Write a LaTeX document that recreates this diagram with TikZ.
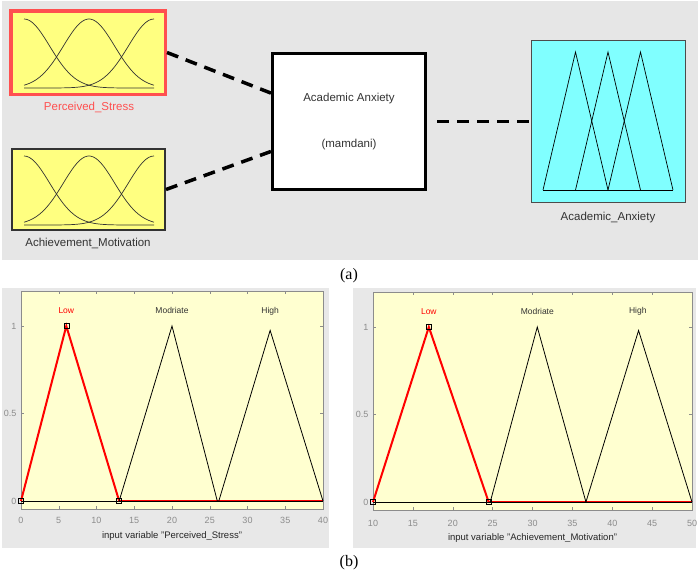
\documentclass[tikz,border=0pt]{standalone}
\usepackage{fontspec}
\setmainfont{Liberation Sans}
\newfontfamily\capfont{Liberation Serif}
\usetikzlibrary{calc, positioning}

\definecolor{panelgray}{RGB}{230,230,230}
\definecolor{framegray}{RGB}{232,232,232}
\definecolor{iconyellow}{RGB}{255,255,128}
\definecolor{iconcyan}{RGB}{128,255,255}
\definecolor{stressred}{RGB}{255,80,80}
\definecolor{axisyellow}{RGB}{255,255,208}
\definecolor{tickgray}{RGB}{140,140,140}

\begin{document}
\begin{tikzpicture}[x=1pt, y=-1pt,
    icon/.style={draw, rectangle, inner sep=0pt},
    link/.style={line width=3.5pt, dash pattern=on 12pt off 8pt},
    toplabel/.style={font=\fontsize{11.5}{13}\selectfont, text=black!80},
    mflabel/.style={font=\fontsize{8.5}{10}\selectfont, text=black!80},
    axlabel/.style={font=\fontsize{9.5}{11}\selectfont, text=black!85},
    ticklabel/.style={font=\fontsize{9}{10}\selectfont, text=tickgray},
    caption/.style={font=\capfont\fontsize{16}{18}\selectfont},
    sqmark/.style={draw, rectangle, inner sep=0pt, minimum size=5pt, line width=0.5pt},
    mf/.style={line width=0.8pt},
    lowmf/.style={red, line width=2pt},
    tickline/.style={draw=tickgray, line width=0.5pt}]
    \useasboundingbox (0,0) rectangle (699,574);
    \fill[white] (0,0) rectangle (699,574);

    % (a) fuzzy inference system
    \fill[panelgray] (2,1) rectangle (698,260);

    \node[icon, draw=stressred, line width=3.5pt, fill=iconyellow, minimum width=154.5pt, minimum height=83.5pt] (stress) at (88,52.5) {};
    \node[icon, draw=black!80, line width=2pt, fill=iconyellow, minimum width=153pt, minimum height=81pt] (motiv) at (88.5,189.5) {};
    \node[icon, draw=black, line width=3pt, fill=white, minimum width=153pt, minimum height=136pt, align=center, toplabel] (fis) at (349,121.5) {Academic Anxiety\\[33pt](mamdani)};
    \node[icon, draw=black!70, line width=1pt, fill=iconcyan, minimum width=154pt, minimum height=162pt] (anx) at (608.5,121.5) {};

    \node[toplabel, text=stressred] (stresslabel) at (89,107) {Perceived\_Stress};
    \node[toplabel] (motivlabel) at (88,243) {Achievement\_Motivation};
    \node[toplabel] (anxlabel) at (608,218) {Academic\_Anxiety};

    \foreach \oy in {0,137}
        \foreach \c in {0,65,130}
            \draw[black!80, line width=0.7pt] plot[domain=0:130, samples=50, smooth] ({24+\x}, {\oy+88-69*exp(-1*(((\x-\c)/36.33)^2))});

    \draw[line width=0.7pt] (543,190) -- (673,190);
    \foreach \s in {0,32.5,65}
        \draw[line width=0.7pt] (543+\s,190) -- (575.5+\s,52) -- (608+\s,190);

    \draw[link] (stress.east) -- (fis.160);
    \draw[link] (motiv.east) -- (fis.201);
    \draw[link, shorten <=10pt] (fis.east) -- (anx.west);

    \node[caption] (capa) at (349,276) {(a)};

    % (b) membership functions, Perceived_Stress
    \fill[framegray] (2,288) rectangle (329,548);
    \begin{scope}[shift={(21pt,-501pt)}, x=7.55pt, y=175pt]
        \draw[tickline, fill=axisyellow] (0,-0.045) rectangle (40,1.2);
        \foreach \t in {0,5,...,40} {
            \draw[tickline] (\t,-0.045) -- ++(0,3pt);
            \draw[tickline] (\t,1.2) -- ++(0,-3pt);
            \node[ticklabel] (sx\t) at (\t,-0.11) {\t};
        }
        \foreach \v/\n in {0/a,0.5/b,1/c} {
            \draw[tickline] (0,\v) -- ++(3pt,0);
            \draw[tickline] (40,\v) -- ++(-3pt,0);
            \node[ticklabel, left=1pt] (sy\n) at (0,\v) {\v};
        }
        \draw[mf] (0,0) -- (13,0);
        \draw[lowmf] (13,0) -- (40,0);
        \draw[mf] (13,0) -- (40,0);
        \draw[lowmf] (0,0) -- (6,1) -- (13,0);
        \draw[mf] (13,0) -- (20,1) -- (26,0);
        \draw[mf] (26.2,0) -- (33,0.975) -- (40,0);
        \node[sqmark] (sma) at (0,0) {};
        \node[sqmark] (smb) at (6,1) {};
        \node[sqmark] (smc) at (13,0) {};
        \node[mflabel, text=red] (slow) at (6,1.086) {Low};
        \node[mflabel] (smid) at (20,1.086) {Modriate};
        \node[mflabel] (shigh) at (33,1.086) {High};
        \node[axlabel] (sxlabel) at (20,-0.2) {input variable "Perceived\_Stress"};
    \end{scope}

    % (b) membership functions, Achievement_Motivation
    \fill[framegray] (353,288) rectangle (696,548);
    \begin{scope}[shift={(293.25pt,-502pt)}, x=7.975pt, y=175pt]
        \draw[tickline, fill=axisyellow] (10,-0.045) rectangle (50,1.2);
        \foreach \t in {10,15,...,50} {
            \draw[tickline] (\t,-0.045) -- ++(0,3pt);
            \draw[tickline] (\t,1.2) -- ++(0,-3pt);
            \node[ticklabel] (mx\t) at (\t,-0.125) {\t};
        }
        \foreach \v/\n in {0/a,0.5/b,1/c} {
            \draw[tickline] (10,\v) -- ++(3pt,0);
            \draw[tickline] (50,\v) -- ++(-3pt,0);
            \node[ticklabel, left=1pt] (my\n) at (10,\v) {\v};
        }
        \draw[mf] (10,0) -- (24.5,0);
        \draw[lowmf] (24.5,0) -- (50,0);
        \draw[mf] (24.5,0) -- (50,0);
        \draw[lowmf] (10,0) -- (17,1) -- (24.5,0);
        \draw[mf] (24.7,0) -- (30.6,1) -- (36.7,0);
        \draw[mf] (36.7,0) -- (43.3,0.98) -- (50,0);
        \node[sqmark] (mma) at (10,0) {};
        \node[sqmark] (mmb) at (17,1) {};
        \node[sqmark] (mmc) at (24.5,0) {};
        \node[mflabel, text=red] (mlow) at (17,1.09) {Low};
        \node[mflabel] (mmid) at (30.6,1.09) {Modriate};
        \node[mflabel] (mhigh) at (43.2,1.09) {High};
        \node[axlabel] (mxlabel) at (30,-0.206) {input variable "Achievement\_Motivation"};
    \end{scope}

    \node[caption] (capb) at (349,563) {(b)};
\end{tikzpicture}
\end{document}
